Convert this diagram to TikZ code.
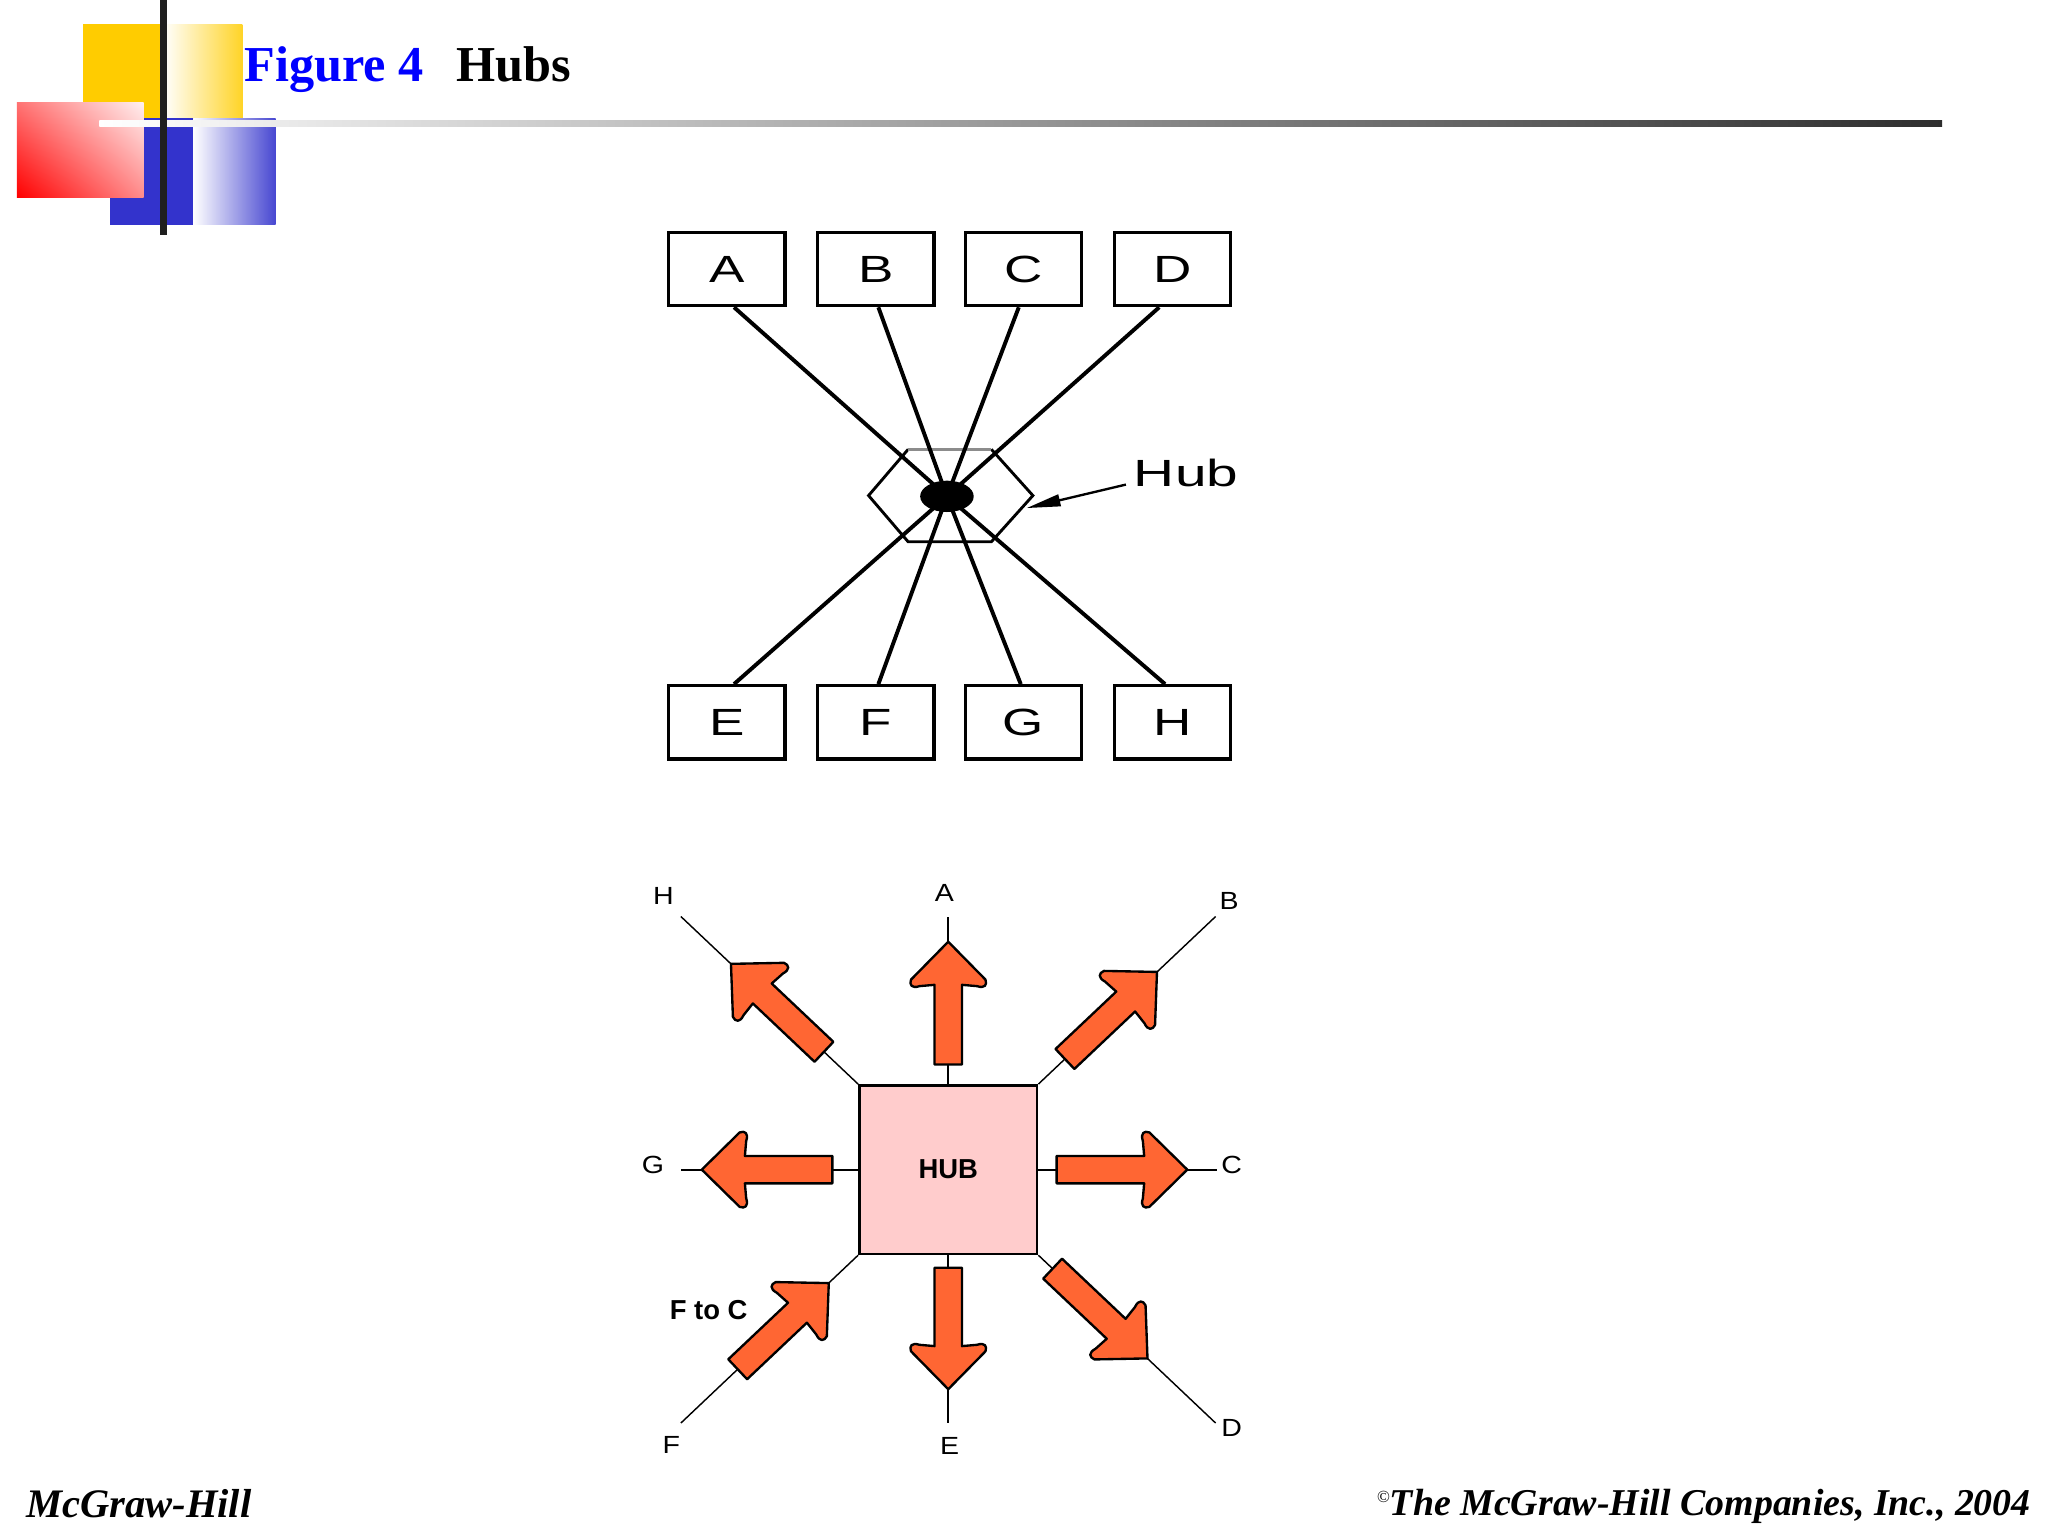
\documentclass[tikz,border=0pt]{standalone}
\usepackage{fontspec}
\usepackage{graphicx}
\setmainfont{Liberation Serif}
\setsansfont{Liberation Sans}
\usetikzlibrary{calc,arrows.meta,shadings}
\definecolor{orangeA}{HTML}{FF6633}
\definecolor{pinkhub}{HTML}{FFCCCC}
\definecolor{logoyellow}{HTML}{FFCC00}
\definecolor{logoblue}{HTML}{3333CC}
\definecolor{titleblue}{HTML}{0000FF}
\tikzset{
  tbox/.style={draw=black, line width=2.5pt, minimum width=89pt, minimum height=56pt,
    inner sep=0pt, fill=white, font=\sffamily\fontsize{29}{29}\selectfont},
  tline/.style={line width=3pt},
  blabel/.style={inner sep=0pt, font=\sffamily\fontsize{19}{19}\selectfont},
  oline/.style={line width=1.6pt},
  dline/.style={line width=1.1pt},
  titlefont/.style={anchor=base west, inner sep=0pt, font=\bfseries\fontsize{38.5}{40}\selectfont},
  footfont/.style={inner sep=0pt, font=\bfseries\itshape\fontsize{#1}{#1}\selectfont},
  pics/orarrow/.style={code={
    \filldraw[fill=orangeA, draw=black, line width=1.8pt, line join=round]
      (0,-10.5) -- ({#1-33},-10.5) -- ({#1-34},-22)
      .. controls ({#1-36},-28) and ({#1-33},-30) .. ({#1-29},-28.5) -- (#1,0)
      -- ({#1-29},28.5) .. controls ({#1-33},30) and ({#1-36},28) .. ({#1-34},22)
      -- ({#1-33},10.5) -- (0,10.5) -- cycle;
  }}
}
\begin{document}
\begin{tikzpicture}[x=1pt,y=-1pt]
\useasboundingbox[fill=white] (0,0) rectangle (1568,1176);
% ---------- logo ----------
\fill[logoyellow] (63.6,18.4) rectangle (125,90.6);
\shade[left color=white, right color=logoyellow!85!white] (125,18.4) rectangle (185.6,90.6);
\fill[logoblue] (84,90.6) rectangle (148,172);
\shade[left color=white, right color=logoblue!90!white] (148,90.6) rectangle (211,172);
\shade[upper left=red!55!white, upper right=red!6!white, lower left=red, lower right=red!45!white]
  (13,78.6) rectangle (110,151);
\shade[left color=white, right color=black!82] (76,92) rectangle (1487,96.5);
\fill[black!88] (122.5,0) rectangle (128,180);
% ---------- title ----------
\node[titlefont, text=titleblue] (fig) at (187,62.5) {Figure 4};
\node[titlefont, text=black] (hubs) at (349,62.5) {Hubs};
% ---------- top diagram ----------
\coordinate (hubc) at (725,380);
\draw[line width=2.2pt] (695.3,344) -- (665,379.4) -- (695.3,414.8) -- (759,414.8) -- (790.8,379.4) -- (759,344);
\draw[line width=2.2pt, black!45] (695.3,344) -- (759,344);
\node[tbox] (A) at (556.5,206) {\scalebox{1.4}[1]{A}};
\node[tbox] (B) at (670.5,206) {\scalebox{1.4}[1]{B}};
\node[tbox] (C) at (783.5,206) {\scalebox{1.4}[1]{C}};
\node[tbox] (D) at (897.5,206) {\scalebox{1.4}[1]{D}};
\node[tbox] (E) at (556.5,553) {\scalebox{1.4}[1]{E}};
\node[tbox] (F) at (670.5,553) {\scalebox{1.4}[1]{F}};
\node[tbox] (G) at (783.5,553) {\scalebox{1.4}[1]{G}};
\node[tbox] (H) at (897.5,553) {\scalebox{1.4}[1]{H}};
\draw[tline] ([xshift=5.5pt]A.south) -- (hubc);
\draw[tline] ([xshift=2pt]B.south) -- (hubc);
\draw[tline] ([xshift=-3.5pt]C.south) -- (hubc);
\draw[tline] ([xshift=-10pt]D.south) -- (hubc);
\draw[tline] ([xshift=5.5pt]E.north) -- (hubc);
\draw[tline] ([xshift=2pt]F.north) -- (hubc);
\draw[tline] ([xshift=-2pt]G.north) -- (hubc);
\draw[tline] ([xshift=-5.5pt]H.north) -- (hubc);
\fill (hubc) ellipse [x radius=20.5, y radius=12];
\node[inner sep=0pt, anchor=west, font=\sffamily\fontsize{29}{29}\selectfont] (hublbl) at (868,362) {\scalebox{1.5}[1]{Hub}};
\coordinate (hubtip) at (786,389);
\draw[line width=1.8pt, -{Triangle[length=26pt,width=9pt]}] ([shift={(-6pt,-9pt)}]hublbl.west) -- (hubtip);
% ---------- bottom diagram ----------
\coordinate (eA) at (726,701.7);
\coordinate (eE) at (726,1089.5);
\coordinate (eG) at (521.3,895.5);
\coordinate (eC) at (931.4,895.5);
\coordinate (eH) at (521.3,701.7);
\coordinate (eB) at (930.7,701.7);
\coordinate (eD) at (930.7,1089.5);
\coordinate (eF) at (521.3,1089.5);
\node[draw=black, line width=2pt, fill=pinkhub, minimum width=136pt, minimum height=129pt,
  inner sep=0pt, font=\sffamily\bfseries\fontsize{21}{21}\selectfont] (HUB) at (726,895.5) {HUB};
\draw[oline] (HUB.north) -- (eA);
\draw[oline] (HUB.south) -- (eE);
\draw[oline] (HUB.west) -- (eG);
\draw[oline] (HUB.east) -- (eC);
\draw[dline] (HUB.north west) -- (eH);
\draw[dline] (HUB.north east) -- (eB);
\draw[dline] (HUB.south east) -- (eD);
\draw[dline] (HUB.south west) -- (eF);
\pic[rotate=90] at (726,815) {orarrow=94};
\pic[rotate=-90] at (726,970.6) {orarrow=93};
\pic[rotate=180] at (637.3,895.5) {orarrow=100};
\pic[rotate=0] at (809,895.5) {orarrow=100};
\pic[rotate=136.6] at ($(HUB.north west)!36pt!(eH)$) {orarrow=98};
\pic[rotate=43.4] at ($(HUB.north east)!28pt!(eB)$) {orarrow=97};
\pic[rotate=-43.4] at ($(HUB.south east)!15pt!(eD)$) {orarrow=100};
\pic[rotate=43.4] at ($(HUB.south west)!127pt!(eF)$) {orarrow=96};
\node[blabel] (lH) at (508,686) {\scalebox{1.15}[1]{H}};
\node[blabel] (lA) at (723,684) {\scalebox{1.15}[1]{A}};
\node[blabel] (lB) at (941,690) {\scalebox{1.15}[1]{B}};
\node[blabel] (lC) at (943,892) {\scalebox{1.15}[1]{C}};
\node[blabel] (lD) at (943,1093) {\scalebox{1.15}[1]{D}};
\node[blabel] (lE) at (727,1107) {\scalebox{1.15}[1]{E}};
\node[blabel] (lF) at (514,1106) {\scalebox{1.15}[1]{F}};
\node[blabel] (lG) at (500,892) {\scalebox{1.15}[1]{G}};
\node[inner sep=0pt, font=\sffamily\bfseries\fontsize{21}{21}\selectfont] (ftoc) at (542.6,1003) {F to C};
% ---------- footers ----------
\node[footfont=31, anchor=base west] (mh) at (20,1162) {McGraw-Hill};
\node[footfont=29, anchor=base east] (copy) at (1555,1160)
  {\raisebox{10pt}{\mdseries\upshape\fontsize{13}{13}\selectfont\textcopyright}The McGraw-Hill Companies, Inc., 2004};
\end{tikzpicture}
\end{document}
